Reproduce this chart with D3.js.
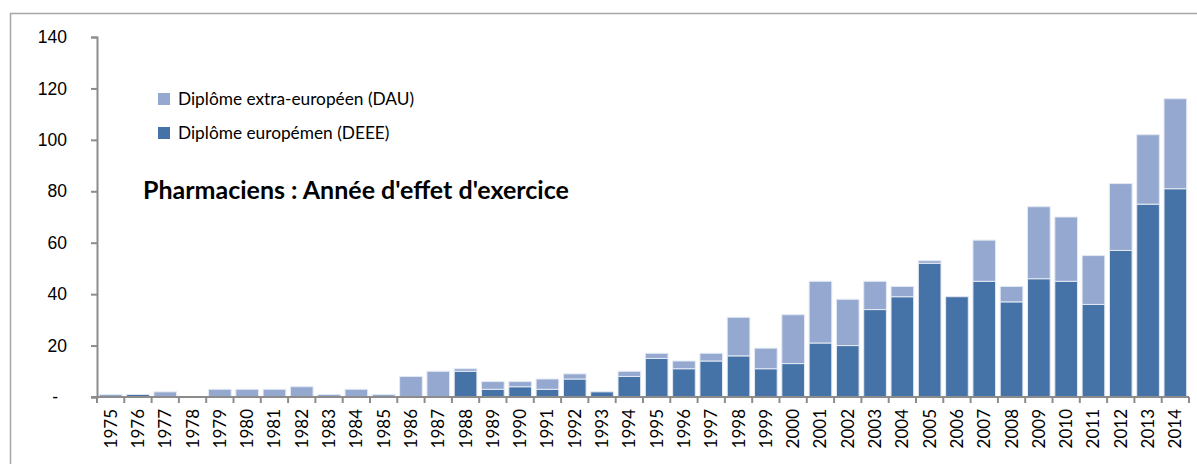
<!DOCTYPE html>
<html>
<head>
<meta charset="utf-8">
<script src="https://cdn.jsdelivr.net/npm/d3@7"></script>
<style>
  body { margin: 0; background: #fff; }
  svg { display: block; font-family: Lato, "Open Sans", sans-serif; }
  .axis path, .axis line { stroke: #8c8c8c; stroke-width: 2; }
  .axis text { fill: #000; }
</style>
</head>
<body>
<div id="chart-container"></div>
<script>
const years = d3.range(1975, 2015).map(String);
// Diplôme européen (DEEE)
const deee = [0, 1, 0, 0, 0, 0, 0, 0, 0, 0, 0, 0, 0, 10, 3, 4, 3, 7, 2, 8,
  15, 11, 14, 16, 11, 13, 21, 20, 34, 39, 52, 39, 45, 37, 46, 45, 36, 57, 75, 81];
// total (DEEE + DAU)
const totals = [1, 1, 2, 0, 3, 3, 3, 4, 1, 3, 1, 8, 10, 11, 6, 6, 7, 9, 2, 10,
  17, 14, 17, 31, 19, 32, 45, 38, 45, 43, 53, 39, 61, 43, 74, 70, 55, 83, 102, 116];
const dau = totals.map((t, i) => t - deee[i]);
const yTicks = [0, 20, 40, 60, 80, 100, 120, 140];
const seriesNames = ["Diplôme extra-européen (DAU)", "Diplôme europémen (DEEE)"];
const colors = { dau: "#95a9d0", deee: "#4673a7" };

const width = 1197, height = 464;
const margin = { top: 37, right: 8, bottom: 67, left: 97 };

const svg = d3.select("#chart-container").append("svg")
  .attr("width", width)
  .attr("height", height);

// outer frame
svg.append("path")
  .attr("d", "M10.5," + height + "V13.5H" + width)
  .attr("fill", "none")
  .attr("stroke", "#a6a6a6")
  .attr("stroke-width", 1.5);

let xScale = d3.scaleBand()
  .domain(years)
  .range([margin.left, width - margin.right])
  .paddingInner(0.17)
  .paddingOuter(0.085);

let yScale = d3.scaleLinear()
  .domain([0, 140])
  .range([height - margin.bottom, margin.top]);

let data = years.map((y, i) => ({ year: y, deee: deee[i], dau: dau[i] }));
let stacked = d3.stack().keys(["deee", "dau"])(data);

svg.append("g").selectAll("g")
  .data(stacked).enter()
  .append("g")
  .attr("fill", (s) => colors[s.key])
  .selectAll("rect")
  .data((s) => s).enter()
  .append("rect")
  .attr("x", (d) => xScale(d.data.year))
  .attr("width", xScale.bandwidth())
  .attr("y", (d) => yScale(d[1]))
  .attr("height", (d) => yScale(d[0]) - yScale(d[1]))
  .attr("stroke", "#e4e9f3")
  .attr("stroke-width", (d) => d[1] > d[0] ? 1 : 0);

// y axis
let yAxis = d3.axisLeft(yScale)
  .tickValues(yTicks)
  .tickSize(6)
  .tickPadding(24)
  .tickFormat((d) => d === 0 ? "-" : d);

svg.append("g")
  .attr("class", "axis")
  .attr("transform", "translate(" + margin.left + ",0)")
  .call(yAxis)
  .call((g) => g.selectAll("text").attr("font-size", 17.5))
  .call((g) => g.selectAll(".tick text").filter((d) => d === 0).attr("dx", -9));

// x axis: ticks between categories
let xAxisG = svg.append("g")
  .attr("class", "axis")
  .attr("transform", "translate(0," + yScale(0) + ")");

xAxisG.append("line")
  .attr("x1", margin.left - 6).attr("x2", width - margin.right)
  .attr("y1", 0).attr("y2", 0);

let step = xScale.step();
let bounds = years.map((y) => xScale(y) - step * 0.085).concat([width - margin.right]);
xAxisG.selectAll(".tick")
  .data(bounds).enter()
  .append("line")
  .attr("x1", (d) => d).attr("x2", (d) => d)
  .attr("y1", 0).attr("y2", 6);

xAxisG.selectAll(".year")
  .data(years).enter()
  .append("text")
  .attr("class", "year")
  .attr("transform", (d) => "translate(" + (xScale(d) + xScale.bandwidth() / 2 + 6) + ",12) rotate(-90)")
  .attr("text-anchor", "end")
  .attr("font-size", 17)
  .text((d) => d);

// legend
let legend = svg.append("g").attr("transform", "translate(158,0)");
[["dau", 99], ["deee", 133]].forEach(([k, y], i) => {
  legend.append("rect")
    .attr("x", 0).attr("y", y - 6)
    .attr("width", 12).attr("height", 12)
    .attr("fill", colors[k]);
  legend.append("text")
    .attr("x", 20).attr("y", y + 6)
    .attr("font-size", 17.3)
    .text(seriesNames[i]);
});

svg.append("text")
  .attr("x", 143).attr("y", 199)
  .attr("font-size", 25)
  .attr("font-weight", "bold")
  .text("Pharmaciens : Année d'effet d'exercice");
</script>
</body>
</html>
